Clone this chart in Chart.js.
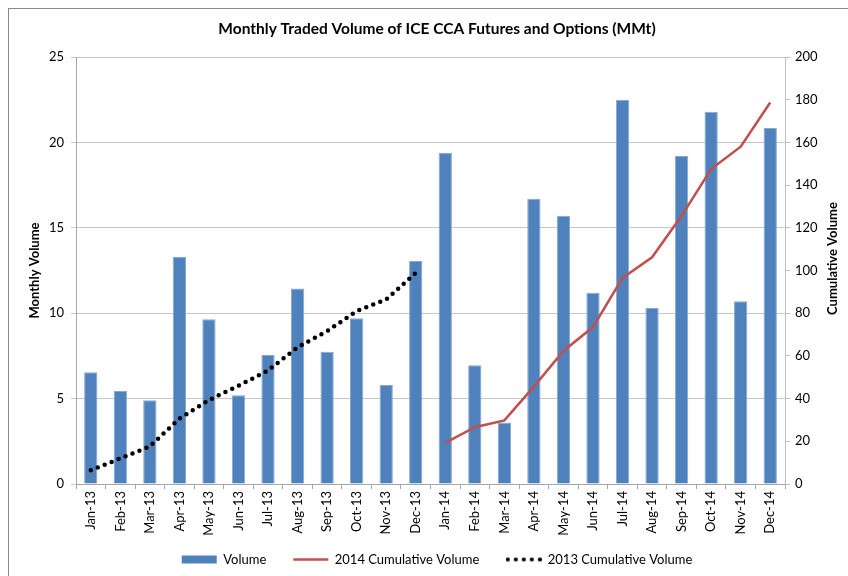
<!DOCTYPE html>
<html>
<head>
<meta charset="utf-8">
<script src="https://cdn.jsdelivr.net/npm/chart.js@4.4.0/dist/chart.umd.min.js"></script>
<style>
  html, body { margin: 0; padding: 0; background: #fff; overflow: hidden; }
  #frame {
    position: absolute; left: 8px; top: 8px; width: 900px; height: 700px;
    border-left: 1px solid #8a8a8a; border-top: 1px solid #8a8a8a;
  }
  #wrap { position: absolute; left: 0; top: 0; width: 848px; height: 576px; }
</style>
</head>
<body>
<div id="frame"></div>
<div id="wrap"><canvas id="chart"></canvas></div>
<script>
const months = [
  'Jan-13', 'Feb-13', 'Mar-13', 'Apr-13', 'May-13', 'Jun-13',
  'Jul-13', 'Aug-13', 'Sep-13', 'Oct-13', 'Nov-13', 'Dec-13',
  'Jan-14', 'Feb-14', 'Mar-14', 'Apr-14', 'May-14', 'Jun-14',
  'Jul-14', 'Aug-14', 'Sep-14', 'Oct-14', 'Nov-14', 'Dec-14'
];

// monthly traded volume (MMt)
const volume = [
  6.55, 5.45, 4.9, 13.3, 9.65, 5.2, 7.55, 11.45, 7.75, 9.7, 5.8, 13.05,
  19.4, 6.95, 3.6, 16.7, 15.7, 11.2, 22.5, 10.3, 19.2, 21.8, 10.7, 20.85
];

// cumulative volume, read per month off the two lines
const cum2013 = [
  6.4, 12.0, 17.6, 30.6, 39.3, 46.0, 53.2, 64.0, 71.6, 81.0, 86.4, 98.9,
  null, null, null, null, null, null, null, null, null, null, null, null
];
const cum2014 = [
  null, null, null, null, null, null, null, null, null, null, null, null,
  19.3, 26.6, 29.8, 45.6, 62.3, 73.5, 96.5, 106.2, 125.6, 147.5, 158.0, 178.7
];

const FONT = 'Lato, "Open Sans", sans-serif';
const tickFont = { family: FONT, size: 13 };

// small dotted swatch for the 2013 legend entry
function dottedSwatch() {
  const c = document.createElement('canvas');
  c.width = 36;
  c.height = 6;
  const g = c.getContext('2d');
  g.fillStyle = '#000';
  for (let i = 0; i < 5; i++) {
    g.beginPath();
    g.arc(2 + i * 8, 3, 2.1, 0, Math.PI * 2);
    g.fill();
  }
  return c;
}

// right axis title reads bottom-to-top in the original
const rightTitle = {
  id: 'rightTitle',
  afterDraw(chart) {
    const { ctx, chartArea, scales } = chart;
    ctx.save();
    ctx.translate(scales.y1.right - 15, (chartArea.top + chartArea.bottom) / 2 - 12);
    ctx.rotate(-Math.PI / 2);
    ctx.font = `bold 13px ${FONT}`;
    ctx.fillStyle = '#000';
    ctx.textAlign = 'center';
    ctx.textBaseline = 'middle';
    ctx.fillText('Cumulative Volume', 0, 0);
    ctx.restore();
  }
};

const swatch2013 = dottedSwatch();

new Chart(document.getElementById('chart'), {
  type: 'bar',
  data: {
    labels: months,
    datasets: [
      {
        type: 'bar',
        label: 'Volume',
        data: volume,
        yAxisID: 'y',
        backgroundColor: '#4f81bd',
        borderColor: '#86a8d3',
        borderWidth: 1,
        borderSkipped: 'bottom',
        barPercentage: 0.45,
        categoryPercentage: 1,
        order: 2
      },
      {
        type: 'line',
        label: '2014 Cumulative Volume',
        data: cum2014,
        yAxisID: 'y1',
        borderColor: '#c0504d',
        backgroundColor: '#c0504d',
        borderWidth: 2.5,
        pointRadius: 0,
        tension: 0,
        order: 0
      },
      {
        type: 'line',
        label: '2013 Cumulative Volume',
        data: cum2013,
        yAxisID: 'y1',
        borderColor: '#000',
        backgroundColor: '#000',
        borderWidth: 4.5,
        borderDash: [0, 7.5],
        borderCapStyle: 'round',
        pointRadius: 0,
        tension: 0,
        order: 1
      }
    ]
  },
  options: {
    responsive: true,
    maintainAspectRatio: false,
    animation: false,
    layout: { padding: { left: 26, right: 0, top: 0, bottom: 0 } },
    plugins: {
      title: {
        display: true,
        text: 'Monthly Traded Volume of ICE CCA Futures and Options (MMt)',
        color: '#000',
        font: { family: FONT, size: 15.5, weight: 'bold', lineHeight: 1.2 },
        padding: { top: 20, bottom: 18.4 }
      },
      legend: {
        position: 'bottom',
        labels: {
          usePointStyle: true,
          pointStyleWidth: 35,
          boxHeight: 8,
          padding: 27,
          color: '#000',
          font: { family: FONT, size: 13 },
          sort: (a, b) => a.datasetIndex - b.datasetIndex,
          generateLabels(chart) {
            const items = Chart.defaults.plugins.legend.labels.generateLabels(chart);
            items.forEach((item) => {
              if (item.datasetIndex === 0) {
                item.pointStyle = 'rect';
                item.lineWidth = 0;
              } else if (item.datasetIndex === 1) {
                item.pointStyle = 'line';
              } else {
                item.pointStyle = swatch2013;
              }
            });
            return items;
          }
        }
      },
      tooltip: { enabled: false }
    },
    scales: {
      x: {
        offset: true,
        afterFit: (s) => {
          s.height = 42;
          // let the rotated month labels run past the short axis box
          s._computeLabelArea = () => undefined;
        },
        grid: {
          offset: true,
          drawOnChartArea: false,
          drawTicks: true,
          tickLength: 5,
          color: '#a6a6a6'
        },
        border: { color: '#a6a6a6' },
        ticks: {
          autoSkip: false,
          minRotation: 90,
          maxRotation: 90,
          padding: 2,
          color: '#000',
          font: tickFont
        }
      },
      y: {
        position: 'left',
        min: 0,
        max: 25,
        afterFit: (s) => { s.width = 50; },
        grid: { color: '#c6c6c6', tickLength: 5 },
        border: { color: '#a6a6a6' },
        ticks: { stepSize: 5, padding: 7, color: '#000', font: tickFont },
        title: {
          display: true,
          text: 'Monthly Volume',
          color: '#000',
          font: { family: FONT, size: 13, weight: 'bold', lineHeight: 1.2 },
          padding: { top: 1, bottom: 0 }
        }
      },
      y1: {
        position: 'right',
        min: 0,
        max: 200,
        afterFit: (s) => { s.width = 63; },
        grid: { drawOnChartArea: false, tickLength: 5, color: '#bfbfbf' },
        border: { color: '#bfbfbf' },
        ticks: { stepSize: 20, padding: 5, color: '#000', font: tickFont }
      }
    }
  },
  plugins: [rightTitle]
});
</script>
</body>
</html>
